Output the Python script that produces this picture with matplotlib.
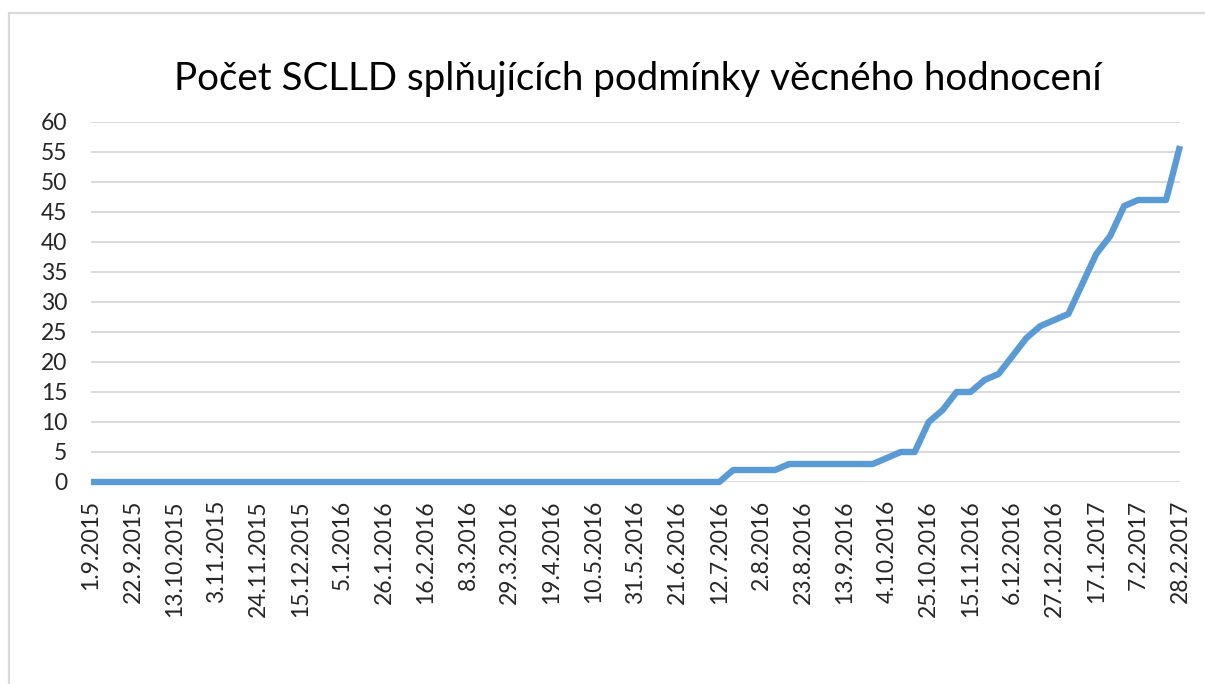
import matplotlib
matplotlib.use('Agg')
import matplotlib.pyplot as plt
from matplotlib.patches import Rectangle
import numpy as np
import pandas as pd

# ===== data (weekly, 1.9.2015 - 28.2.2017) =====
start_date = '2015-09-01'
n_weeks = 79
pocet = [
    0, 0, 0, 0, 0, 0, 0, 0, 0, 0,
    0, 0, 0, 0, 0, 0, 0, 0, 0, 0,
    0, 0, 0, 0, 0, 0, 0, 0, 0, 0,
    0, 0, 0, 0, 0, 0, 0, 0, 0, 0,
    0, 0, 0, 0, 0, 0, 2, 2, 2, 2,
    3, 3, 3, 3, 3, 3, 3, 4, 5, 5,
    10, 12, 15, 15, 17, 18, 21, 24, 26, 27,
    28, 33, 38, 41, 46, 47, 47, 47, 56,
]
tick_labels = [
    '1.9.2015', '22.9.2015', '13.10.2015', '3.11.2015', '24.11.2015',
    '15.12.2015', '5.1.2016', '26.1.2016', '16.2.2016', '8.3.2016',
    '29.3.2016', '19.4.2016', '10.5.2016', '31.5.2016', '21.6.2016',
    '12.7.2016', '2.8.2016', '23.8.2016', '13.9.2016', '4.10.2016',
    '25.10.2016', '15.11.2016', '6.12.2016', '27.12.2016', '17.1.2017',
    '7.2.2017', '28.2.2017',
]
titulek = 'Počet SCLLD splňujících podmínky věcného hodnocení'

dates = pd.date_range(start_date, periods=n_weeks, freq='7D')
x = np.arange(len(dates))

plt.rcParams['font.family'] = ['Lato', 'DejaVu Sans']

fig = plt.figure(figsize=(12.05, 6.84), dpi=100)

# light frame of the chart area (top and left edge visible)
fig.patches.append(Rectangle((9 / 1205, -0.1), 1.2, 1 - 13 / 684 + 0.1,
                             transform=fig.transFigure, fill=False,
                             edgecolor='#d9d9d9', linewidth=1.6))

ax = fig.add_axes([91 / 1205, 1 - 482 / 684, (1180 - 91) / 1205, (482 - 122) / 684])
ax.plot(x, pocet, color='#5b9bd5', linewidth=4.6, solid_capstyle='butt',
        solid_joinstyle='round', clip_on=False, zorder=3)

ax.set_xlim(0, len(x) - 1)
ax.set_ylim(0, 60)
ax.set_yticks(range(0, 61, 5))
ax.set_xticks(x[::3])
ax.set_xticklabels(tick_labels, rotation=90, fontsize=16.5, color='#262626')
ax.tick_params(axis='y', length=0, pad=17, labelsize=16.5, labelcolor='#262626')
ax.tick_params(axis='x', length=0, pad=13)
ax.grid(axis='y', color='#d9d9d9', linewidth=1.4)
ax.set_axisbelow(True)
for s in ax.spines.values():
    s.set_visible(False)

fig.text(0.529, 1 - 79 / 684, titulek, ha='center', va='center',
         fontsize=27.7, color='#000000')

plt.savefig('out.png', dpi=100)
